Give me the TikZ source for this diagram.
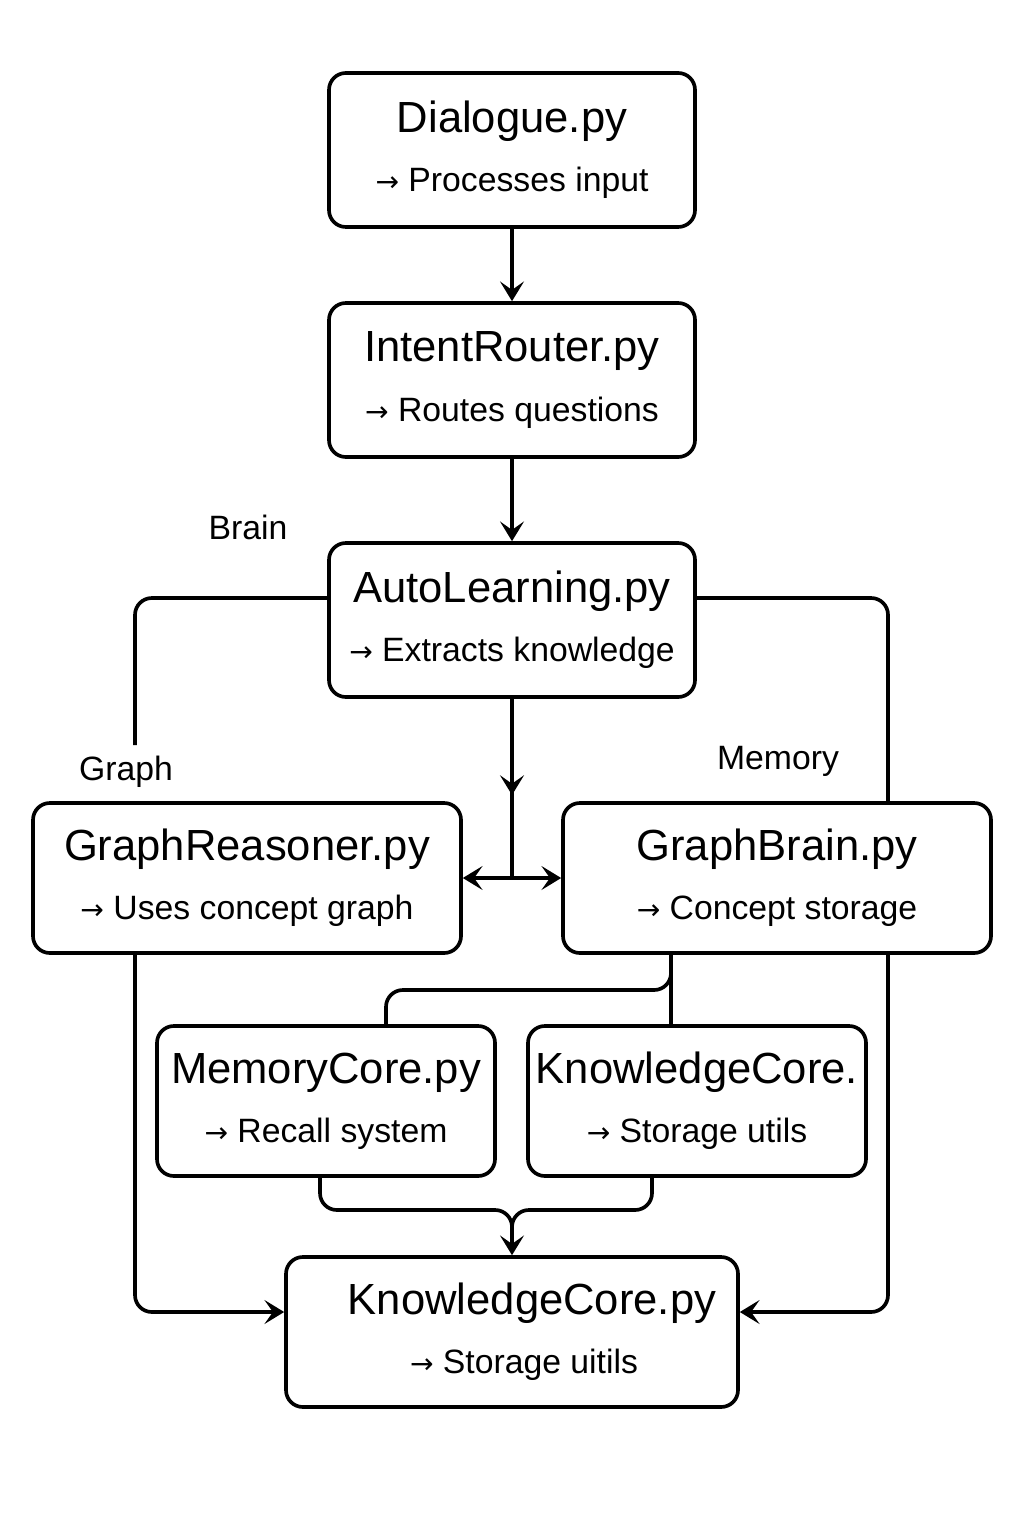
\documentclass[tikz,border=0pt]{standalone}
\usepackage{fontspec}
\setmainfont{Liberation Sans}
\newfontfamily\arrowfont{DejaVu Sans}
\usetikzlibrary{arrows.meta,calc}

\tikzset{
  module/.style={draw=black,line width=2.6pt,rounded corners=12pt,inner sep=0pt,
    align=center,font=\fontsize{24}{42}\selectfont},
  wire/.style={line width=2.6pt,rounded corners=12pt},
  tip/.style={-{Stealth[length=14pt,width=17pt,inset=6pt]}},
  tips/.style={{Stealth[length=14pt,width=17pt,inset=6pt]}-{Stealth[length=14pt,width=17pt,inset=6pt]}},
  tag/.style={font=\fontsize{24}{28}\selectfont}
}
\newcommand{\modname}[1]{{\fontsize{31}{42}\selectfont #1}}
\newcommand{\modarrow}{{\arrowfont\fontsize{20}{42}\selectfont →}}

\begin{document}
\begin{tikzpicture}
\useasboundingbox (0,0) rectangle (25.6,-38.4);
% the modules
\node[module,minimum width=9.15cm,minimum height=3.85cm] (dialogue) at (12.8,-3.75) {\modname{Dialogue.py}\\\modarrow{} Processes input\hspace{0.4cm}};
\node[module,minimum width=9.15cm,minimum height=3.85cm] (router) at (12.8,-9.5) {\modname{IntentRouter.py}\\\modarrow{} Routes questions};
\node[module,minimum width=9.15cm,minimum height=3.85cm] (autolearn) at (12.8,-15.5) {\modname{AutoLearning.py}\\\modarrow{} Extracts knowledge};
\node[module,minimum width=10.7cm,minimum height=3.75cm] (reasoner) at (6.175,-21.95) {\modname{GraphReasoner.py}\\\modarrow{} Uses concept graph\hspace{0.4cm}};
\node[module,minimum width=10.7cm,minimum height=3.75cm] (brain) at (19.425,-21.95) {\modname{GraphBrain.py}\hspace{0.6cm}\\\modarrow{} Concept storage\hspace{0.6cm}};
\node[module,minimum width=8.45cm,minimum height=3.75cm] (memcore) at (8.15,-27.525) {\modname{MemoryCore.py}\\\modarrow{} Recall system\hspace{0.6cm}};
\node[module,minimum width=8.45cm,minimum height=3.75cm] (knowmid) at (17.425,-27.525) {\modname{KnowledgeCore.}\\\modarrow{} Storage utils};
\node[module,minimum width=11.3cm,minimum height=3.75cm] (knowcore) at (12.8,-33.3) {\hspace{1cm}\modname{KnowledgeCore.py}\\\hspace{0.6cm}\modarrow{} Storage uitils};
% the labels
\node[tag] (brainlbl) at (6.2,-13.175) {Brain};
\node[tag] (graphlbl) at (3.15,-19.3) {Graph};
\node[tag] (memlbl) at (19.45,-19.025) {Memory};
% rails and forks
\coordinate (lrail) at (3.375,0);
\coordinate (rrail) at (22.2,0);
\coordinate (graphend) at (3.375,-18.625);
\coordinate (mtap) at (16.775,0);
\coordinate (mfork) at (16.775,-24.4);
\coordinate (split) at (12.8,-21.95);
\coordinate (merge) at (12.8,-30.25);
% the connectors
\draw[wire,tip] (dialogue) -- (router);
\draw[wire,tip] (router) -- (autolearn);
\draw[wire,tip] (autolearn) -- (12.8,-19.875);
\draw[wire] (12.8,-19.8) -- (split);
\draw[wire,tips] (reasoner) -- (brain);
\draw[wire] ($(autolearn.west)+(0,0.55)$) -| (graphend);
\draw[wire] ($(autolearn.east)+(0,0.55)$) -| (rrail |- brain.north);
\draw[wire,tip] (rrail |- brain.south) |- ($(knowcore.east)+(0,0.5)$);
\draw[wire,tip] (lrail |- reasoner.south) |- ($(knowcore.west)+(0,0.5)$);
\draw[wire] (mtap |- brain.south) -- (mtap |- knowmid.north);
\draw[wire] (mfork) |- (9.65,-24.75) -- ($(memcore.north)+(1.5,0)$);
\draw[wire,tip] ($(memcore.south)+(-0.15,0)$) |- (merge) -- (knowcore.north);
\draw[wire] ($(knowmid.south)+(-1.125,0)$) |- (merge) -- ($(merge)+(0,-0.6)$);
\end{tikzpicture}
\end{document}
